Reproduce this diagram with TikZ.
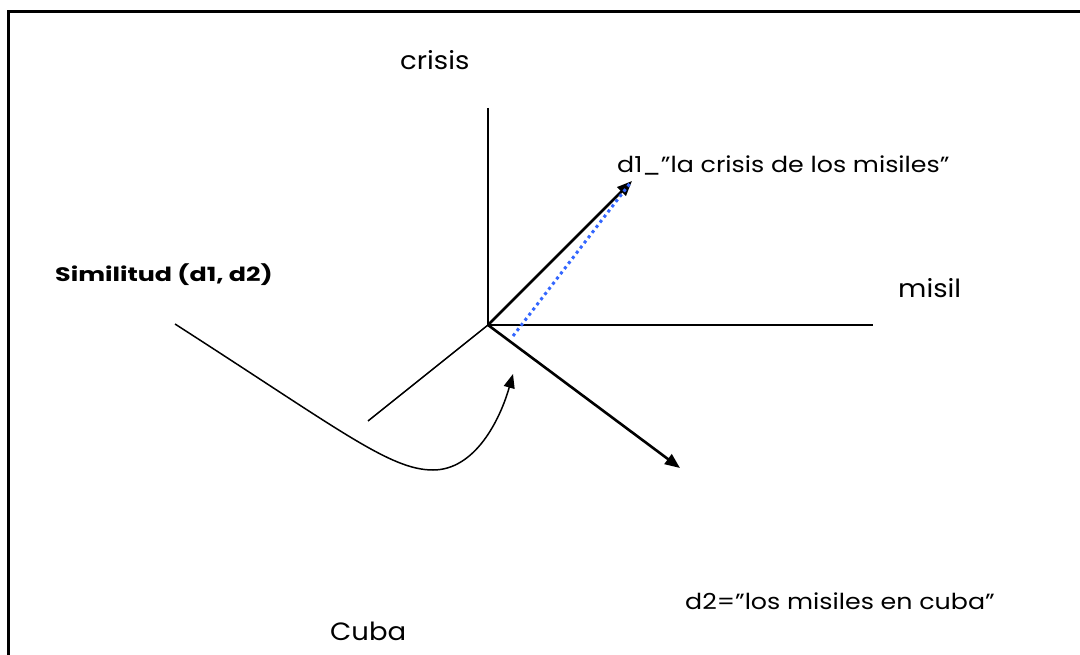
\documentclass[tikz,border=0pt]{standalone}
\usepackage{fontspec}
\setmainfont{Poppins}
\newfontfamily\lblfont[FakeStretch=1.1]{Poppins}
\newfontfamily\txtfont[FakeStretch=1.15]{Poppins}
\newfontfamily\boldfont[FakeStretch=1.3]{Poppins}
\usetikzlibrary{arrows.meta}
\definecolor{dotblue}{RGB}{51,102,255}
\begin{document}
\begin{tikzpicture}[x=1pt,y=-1pt,
  axis/.style={line width=1.5pt},
  vec/.style={line width=2.6pt,-{Triangle[length=15pt,width=12pt]}},
  lbl/.style={inner sep=0pt,anchor=base west,font=\lblfont\fontsize{25}{29}\selectfont},
  small/.style={inner sep=0pt,anchor=base west,font=\txtfont\fontsize{22}{26}\selectfont},
  bold/.style={inner sep=0pt,anchor=base west,font=\boldfont\bfseries\fontsize{19.5}{23}\selectfont}]
\useasboundingbox (0,0) rectangle (1080,655);
\draw[line width=3pt] (8,655) -- (8,12) -- (1080,12);
\coordinate (O) at (488,325);
\coordinate (ctop) at (488,108);
\coordinate (mend) at (873,325);
\coordinate (cend) at (368,421);
\coordinate (d1) at (632,181);
\coordinate (d2) at (680,468);
\coordinate (bs) at (513,336);
\coordinate (be) at (631,182);
\coordinate (cs) at (175,324);
\coordinate (cb) at (433,470);
\coordinate (ct) at (513,374);
\draw[axis] (ctop) -- (O) -- (mend);
\draw[axis] (O) -- (cend);
\draw[vec] (O) -- (d1);
\draw[vec] (O) -- (d2);
\draw[dotblue,line width=3pt,dash pattern=on 3pt off 3.5pt] (bs) -- (be);
\draw[line width=1.5pt,-{Triangle[length=14pt,width=11pt]}] (cs) .. controls (340,430) and (390,470) .. (cb) .. controls (475,470) and (500,420) .. (ct);
\node[lbl] (crisis) at (400,70) {crisis};
\node[lbl] (misil) at (898,298) {misil};
\node[lbl] (cuba) at (330,640) {Cuba};
\node[small] (t1) at (617,173) {d1\_”la crisis de los misiles”};
\node[small] (t2) at (685,609) {d2=”los misiles en cuba”};
\node[bold] (sim) at (55,282) {Similitud (d1, d2)};
\end{tikzpicture}
\end{document}
